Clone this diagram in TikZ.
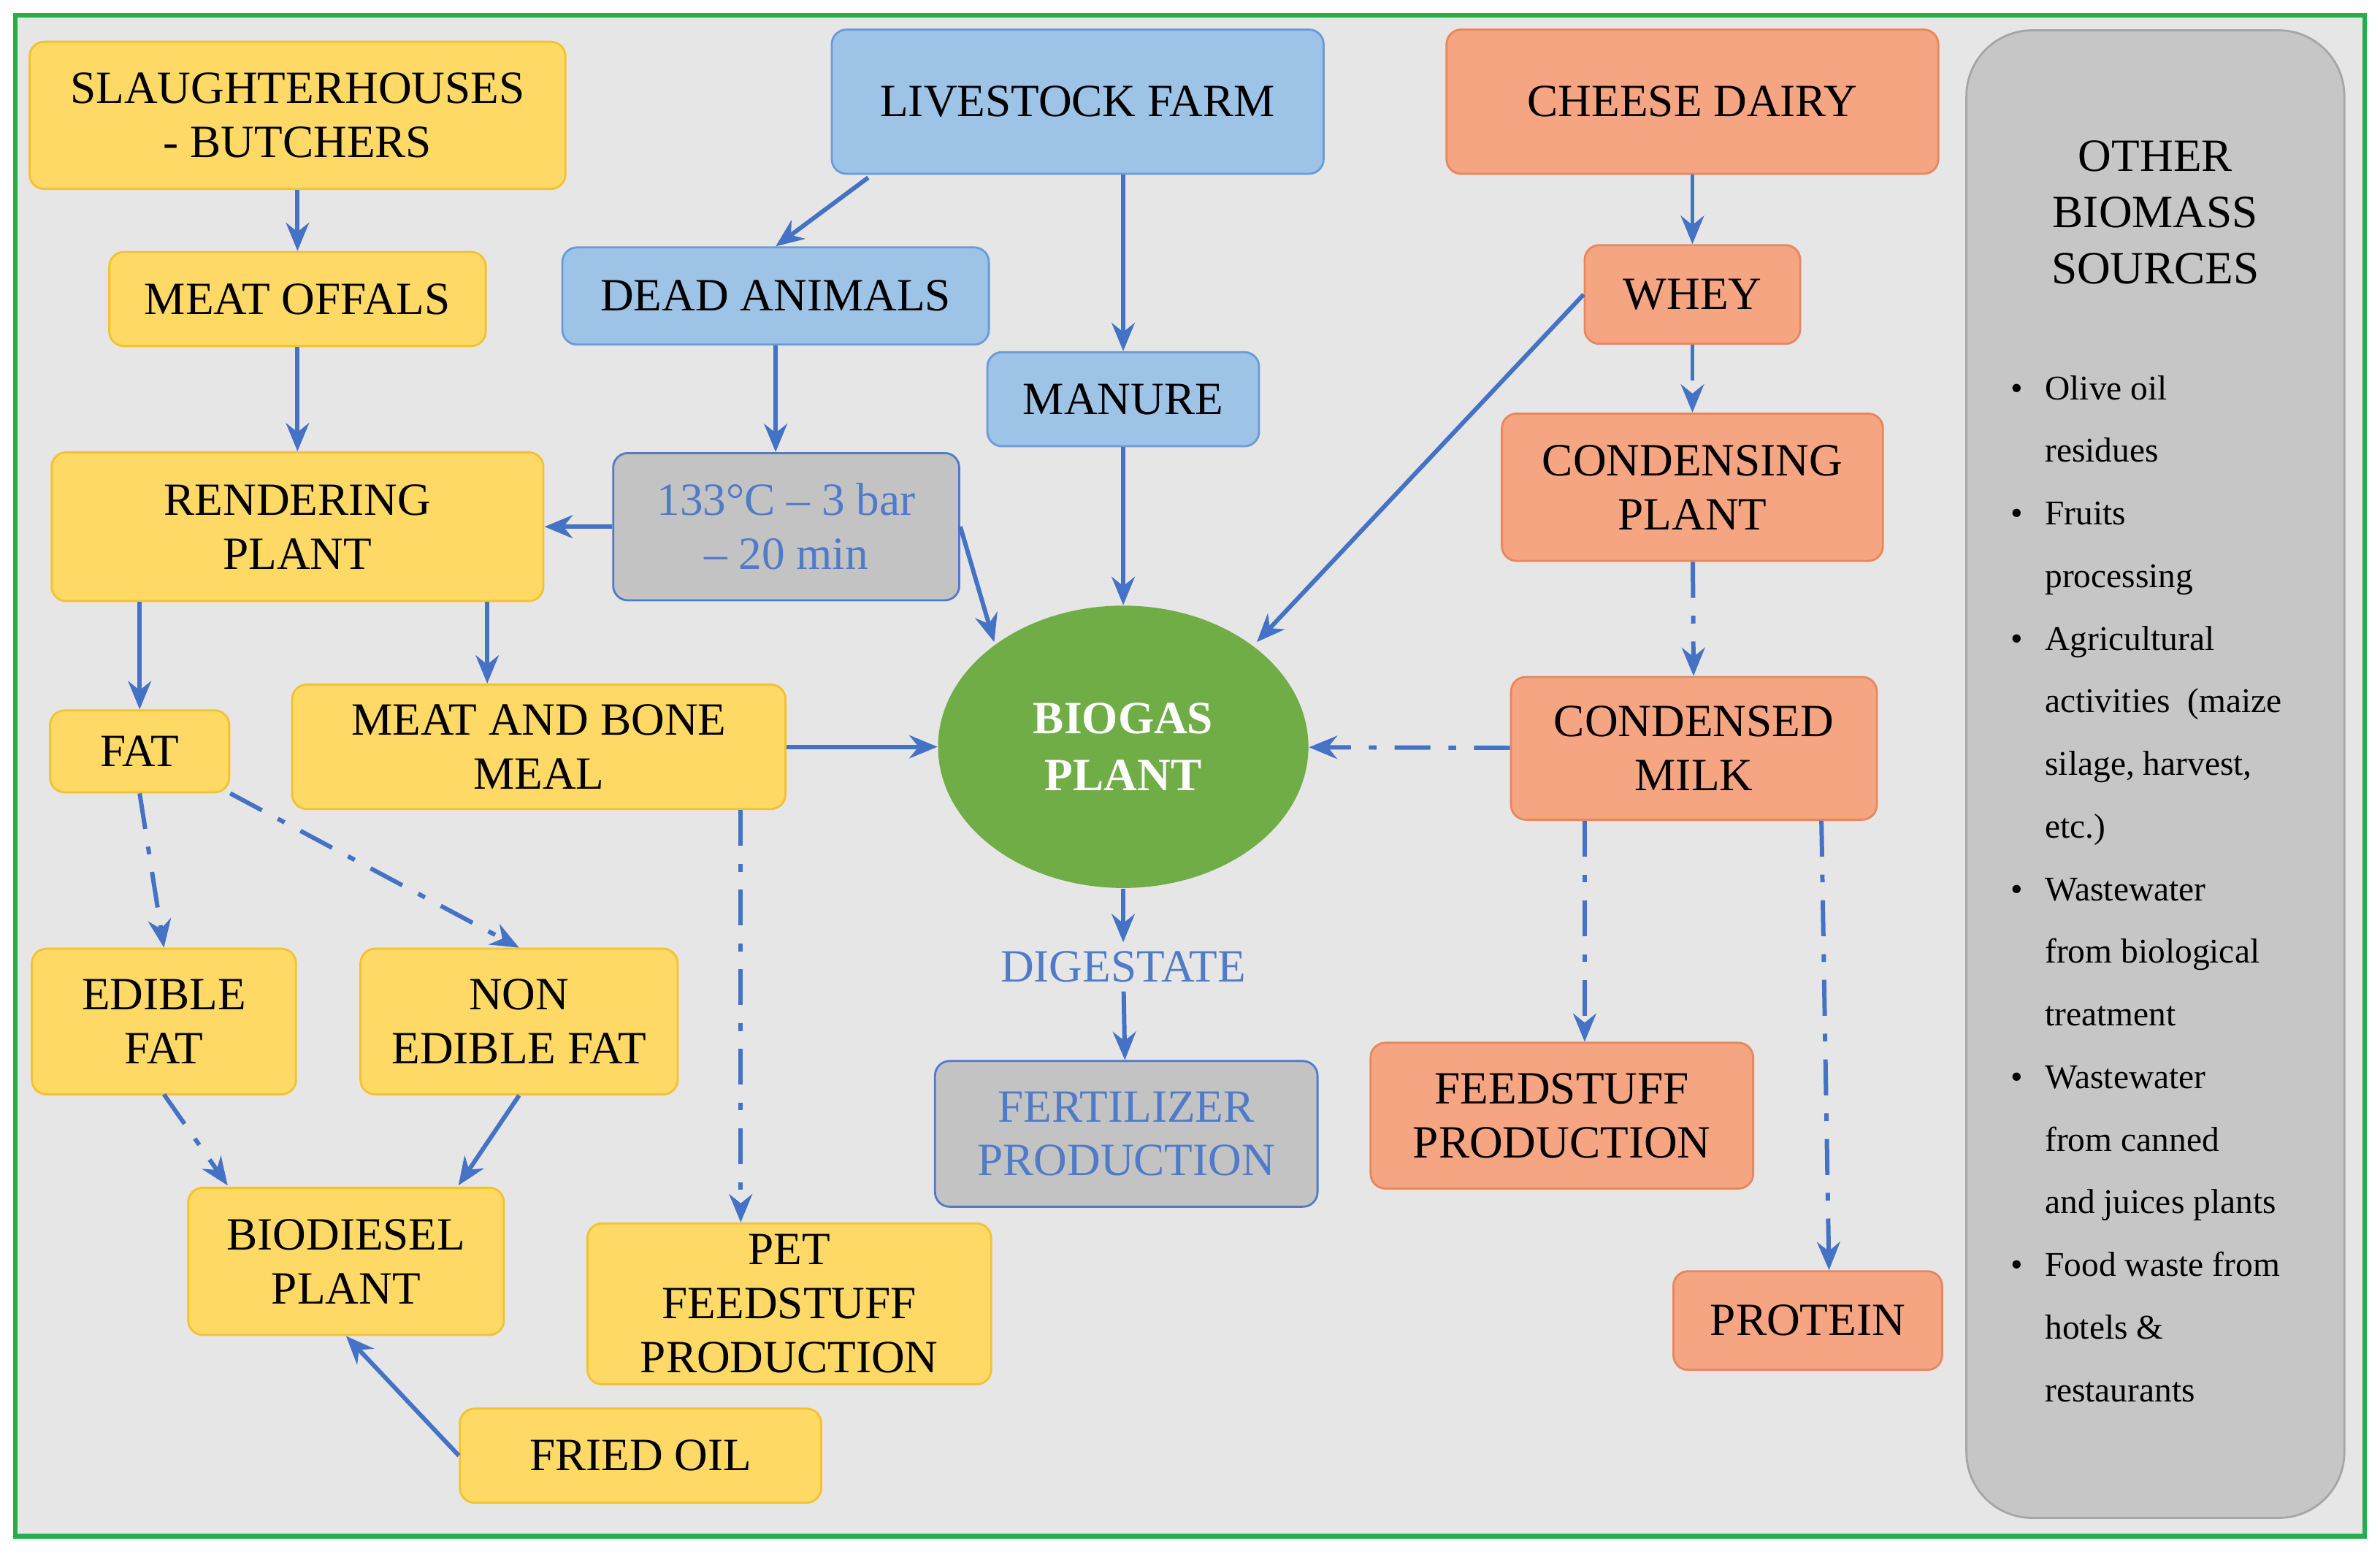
\documentclass[tikz,border=0pt]{standalone}
\usepackage{fontspec}
\setmainfont{Liberation Serif}
\usetikzlibrary{arrows.meta,shapes.geometric}
\definecolor{yel}{HTML}{FFD966}
\definecolor{yelb}{HTML}{F2C230}
\definecolor{blu}{HTML}{9DC3E6}
\definecolor{blub}{HTML}{6A9BD8}
\definecolor{org}{HTML}{F6A582}
\definecolor{orgb}{HTML}{E8865E}
\definecolor{arr}{HTML}{4472C4}
\definecolor{txtb}{HTML}{4F7BC8}
\definecolor{bg}{HTML}{E7E6E6}
\definecolor{grn}{HTML}{70AD47}
\definecolor{frame}{HTML}{22B04B}
\begin{document}
\begin{tikzpicture}[x=0.02078cm,y=-0.02078cm,
  every node/.style={font=\fontsize{18}{21}\selectfont},
  box/.style 2 args={rounded corners=0.2cm, align=center, inner sep=0pt,
    minimum width=#1*0.02078cm, minimum height=#2*0.02078cm, line width=0.8pt},
  Y/.style={fill=yel, draw=yelb},
  B/.style={fill=blu, draw=blub},
  O/.style={fill=org, draw=orgb},
  G/.style={fill=bg!85!black, draw=txtb, text=txtb},
  a/.style={draw=arr, line width=1.7pt, -{Stealth[length=11pt,width=9pt]}},
  d/.style={a, dash pattern=on 14pt off 7pt on 3pt off 7pt}]
\useasboundingbox (0,0) rectangle (1568,1025.5);
\fill[white] (0,0) rectangle (1568,1025.5);
\filldraw[fill=bg, draw=frame, line width=1.8pt] (10,10) rectangle (1558,1012);

\node[box={353}{97},Y] (sl) at (196,76) {SLAUGHTERHOUSES\\- BUTCHERS};
\node[box={324}{95},B] (lf) at (710,67) {LIVESTOCK FARM};
\node[box={324}{95},O] (cd) at (1115,67) {CHEESE DAIRY};
\node[box={249}{980},fill=gray!45, draw=gray!70, rounded corners=0.9cm] (ob) at (1420,510) {};
\node[align=center, font=\fontsize{18}{22}\selectfont] (obt) at (1420,140) {OTHER\\BIOMASS\\SOURCES};
\node[anchor=north west, align=left, inner sep=0pt, font=\fontsize{13.5}{24.4}\selectfont] (obl) at (1347,247) {%
\llap{\textbullet\hspace{0.3cm}}Olive oil\\ residues\\
\llap{\textbullet\hspace{0.3cm}}Fruits\\ processing\\
\llap{\textbullet\hspace{0.3cm}}Agricultural\\ activities\ \ (maize\\ silage,\ harvest,\\ etc.)\\
\llap{\textbullet\hspace{0.3cm}}Wastewater\\ from biological\\ treatment\\
\llap{\textbullet\hspace{0.3cm}}Wastewater\\ from canned\\ and juices plants\\
\llap{\textbullet\hspace{0.3cm}}Food waste from\\ hotels \&\\ restaurants};

\node[box={248}{62},Y] (mo) at (196,197) {MEAT OFFALS};
\node[box={281}{64},B] (da) at (511,195) {DEAD ANIMALS};
\node[box={179}{62},B] (ma) at (740,263) {MANURE};
\node[box={142}{65},O] (wh) at (1115,194) {WHEY};
\node[box={324}{98},Y] (rp) at (196,347) {RENDERING\\PLANT};
\node[box={228}{97},G] (tc) at (518,347) {133°C – 3 bar\\– 20 min};
\node[box={251}{97},O] (cp) at (1115,321) {CONDENSING\\PLANT};
\node[box={118}{54},Y] (fat) at (92,495) {FAT};
\node[box={325}{82},Y] (mb) at (355,492) {MEAT AND BONE\\MEAL};
\node[ellipse, fill=grn, inner sep=0pt, minimum width=244*0.02078cm, minimum height=186*0.02078cm, text=white, align=center, font=\fontsize{18}{22}\selectfont\bfseries] (bp) at (740,492) {BIOGAS\\PLANT};
\node[box={241}{94},O] (cm) at (1116,493) {CONDENSED\\MILK};
\node[box={174}{96},Y] (ef) at (108,673) {EDIBLE\\FAT};
\node[box={209}{96},Y] (nf) at (342,673) {NON\\EDIBLE FAT};
\node[text=txtb] (dg) at (740,637) {DIGESTATE};
\node[box={252}{96},G] (fp) at (742,747) {FERTILIZER\\PRODUCTION};
\node[box={252}{96},O] (fs) at (1029,735) {FEEDSTUFF\\PRODUCTION};
\node[box={208}{97},Y] (bd) at (228,831) {BIODIESEL\\PLANT};
\node[box={266}{106},Y] (pf) at (520,859) {PET\\FEEDSTUFF\\PRODUCTION};
\node[box={177}{65},O] (pr) at (1191,870) {PROTEIN};
\node[box={238}{62},Y] (fo) at (422,959) {FRIED OIL};

\draw[a] (sl) -- (mo);
\draw[a] (mo) -- (rp);
\draw[a] (572,117) -- (da.north);
\draw[a] (lf.south -| ma.north) -- (ma);
\draw[a] (da) -- (tc.north -| da.south);
\draw[a] (tc) -- (rp);
\draw[a] (tc.east) -- (655,423);
\draw[a] (ma) -- (bp);
\draw[a] (wh.west) -- (828,423);
\draw[a] (cd) -- (wh);
\draw[d] (wh) -- (cp);
\draw[d] (cp) -- (cm);
\draw[d] (cm) -- (bp);
\draw[a] (rp.south -| fat.north) -- (fat);
\draw[a] (rp.south -| 321,0) -- (mb.north -| 321,0);
\draw[a] (mb) -- (bp);
\draw[d] (mb.south -| 488,0) -- (pf.north -| 488,0);
\draw[d] (fat.south) -- (ef.north);
\draw[d] (fat.south east) -- (nf.north);
\draw[d] (108,721) -- (150,781);
\draw[a] (nf.south) -- (302,781);
\draw[a] (fo.west) -- (bd.south);
\draw[a] (bp) -- (dg);
\draw[a] (dg) -- (fp);
\draw[d] (cm.south -| 1044,0) -- (fs.north -| 1044,0);
\draw[d] (cm.south -| 1200,0) -- (pr.north -| 1205,0);
\end{tikzpicture}
\end{document}
